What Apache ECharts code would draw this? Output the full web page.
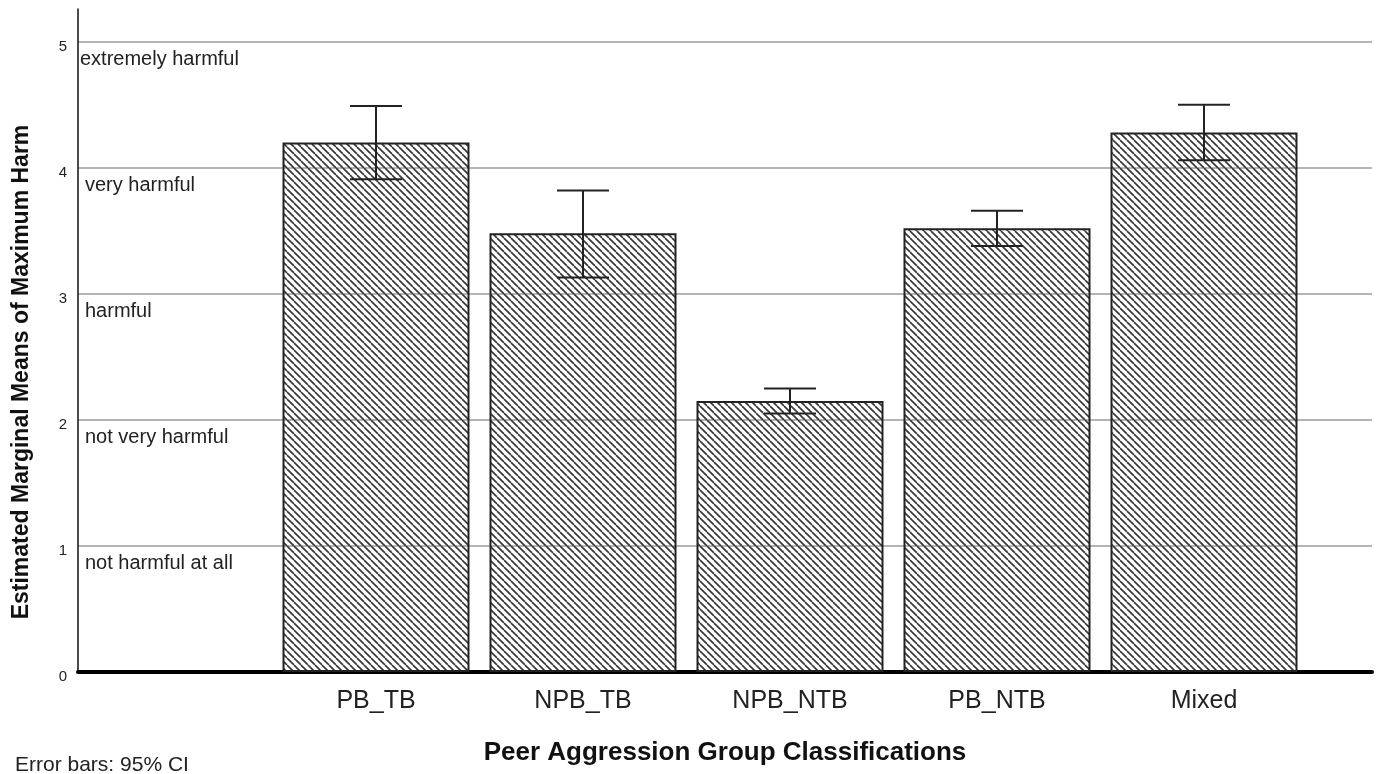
<!DOCTYPE html>
<html>
<head>
<meta charset="utf-8">
<script src="https://cdn.jsdelivr.net/npm/echarts@6/dist/echarts.min.js"></script>
<style>
html,body{margin:0;padding:0;background:#fff;}
#chart{width:1380px;height:774px;}
</style>
</head>
<body>
<div id="chart"></div>
<script>
var categories = ['PB_TB', 'NPB_TB', 'NPB_NTB', 'PB_NTB', 'Mixed'];
var means = [4.20, 3.48, 2.15, 3.52, 4.28];
var ciLow = [3.91, 3.13, 2.05, 3.38, 4.06];
var ciHigh = [4.49, 3.82, 2.25, 3.66, 4.50];
var yTickValues = [0, 1, 2, 3, 4, 5];
var harmLabels = ['', 'not harmful at all', 'not very harmful', 'harmful', 'very harmful', 'extremely harmful'];

var FONT = '"Liberation Sans", Arial, sans-serif';

// hatch pattern
var s = 7;
var cv = document.createElement('canvas');
cv.width = s; cv.height = s;
var ctx = cv.getContext('2d');
ctx.strokeStyle = '#333';
ctx.lineWidth = 1.6;
for (var k = -1; k <= 1; k++) {
  ctx.beginPath();
  ctx.moveTo(k * s, 0);
  ctx.lineTo(k * s + s, s);
  ctx.stroke();
}

var errData = categories.map(function (c, i) { return [i, ciLow[i], ciHigh[i]]; });

var chart = echarts.init(document.getElementById('chart'), null, {renderer: 'canvas'});
var option = {
  animation: false,
  backgroundColor: '#fff',
  grid: [
    {left: 78, right: 8, top: 9, bottom: 102, outerBoundsMode: 'none', containLabel: false},
    {left: 272.5, right: 72.5, top: 9, bottom: 102, outerBoundsMode: 'none', containLabel: false}
  ],
  xAxis: [
    {
      type: 'value', gridIndex: 0, min: 0, max: 1,
      axisLine: {show: true, lineStyle: {color: '#000', width: 4}},
      axisTick: {show: false}, axisLabel: {show: false}, splitLine: {show: false},
      name: 'Peer Aggression Group Classifications',
      nameLocation: 'middle', nameGap: 68,
      nameTextStyle: {fontFamily: FONT, fontSize: 26, fontWeight: 'bold', color: '#111'}
    },
    {
      type: 'category', gridIndex: 1, data: categories,
      axisLine: {show: false}, axisTick: {show: false},
      axisLabel: {fontFamily: FONT, fontSize: 25, color: '#222', margin: 17}
    }
  ],
  yAxis: [
    {
      type: 'value', gridIndex: 0, min: 0, max: 5.26, interval: 1,
      axisLine: {show: true, lineStyle: {color: '#111', width: 1.5}},
      axisTick: {show: false},
      axisLabel: {
        fontFamily: FONT, fontSize: 15, color: '#222', margin: 11,
        verticalAlign: 'top', lineHeight: 10,
        formatter: function (v) { return yTickValues.indexOf(v) >= 0 ? String(v) : ''; }
      },
      splitLine: {show: true, showMaxLine: false, lineStyle: {color: '#b4b4b4', width: 2}}
    },
    {
      type: 'value', gridIndex: 0, min: 0, max: 5.26, interval: 1, position: 'left',
      axisLine: {show: false}, axisTick: {show: false}, splitLine: {show: false},
      axisLabel: {
        inside: true, margin: 2, verticalAlign: 'top', padding: [8, 0, 0, 0],
        fontFamily: FONT, fontSize: 20, color: '#222',
        formatter: function (v) {
          var i = yTickValues.indexOf(v);
          if (i <= 0) return '';
          return i === 5 ? harmLabels[i] : '{b|' + harmLabels[i] + '}';
        },
        rich: {b: {padding: [0, 0, 0, 5], fontFamily: FONT, fontSize: 20, color: '#222'}}
      }
    },
    {
      type: 'value', gridIndex: 1, min: 0, max: 5.26, interval: 1, show: false
    }
  ],
  series: [
    {
      type: 'bar', xAxisIndex: 1, yAxisIndex: 2, data: means,
      barWidth: 187,
      itemStyle: {color: {image: cv, repeat: 'repeat'}, borderColor: '#222', borderWidth: 2}
    },
    {
      type: 'custom', xAxisIndex: 1, yAxisIndex: 2, data: errData, z: 5,
      renderItem: function (params, api) {
        var x = api.value(0);
        var lo = api.coord([x, api.value(1)]);
        var hi = api.coord([x, api.value(2)]);
        var hw = 26;
        var st = {stroke: '#222', lineWidth: 2};
        return {
          type: 'group',
          children: [
            {type: 'line', shape: {x1: hi[0], y1: hi[1], x2: lo[0], y2: lo[1]}, style: st},
            {type: 'line', shape: {x1: hi[0] - hw, y1: hi[1], x2: hi[0] + hw, y2: hi[1]}, style: st},
            {type: 'line', shape: {x1: lo[0] - hw, y1: lo[1], x2: lo[0] + hw, y2: lo[1]}, style: st}
          ]
        };
      }
    }
  ],
  graphic: [
    {
      type: 'text', x: 22, y: 372, rotation: Math.PI / 2,
      style: {
        text: 'Estimated Marginal Means of Maximum Harm',
        font: 'bold 23px ' + FONT, fill: '#111', align: 'center', verticalAlign: 'middle'
      }
    },
    {
      type: 'text', left: 15, top: 755,
      style: {text: 'Error bars: 95% CI', font: '21px ' + FONT, fill: '#222'}
    }
  ]
};
chart.setOption(option);
</script>
</body>
</html>
